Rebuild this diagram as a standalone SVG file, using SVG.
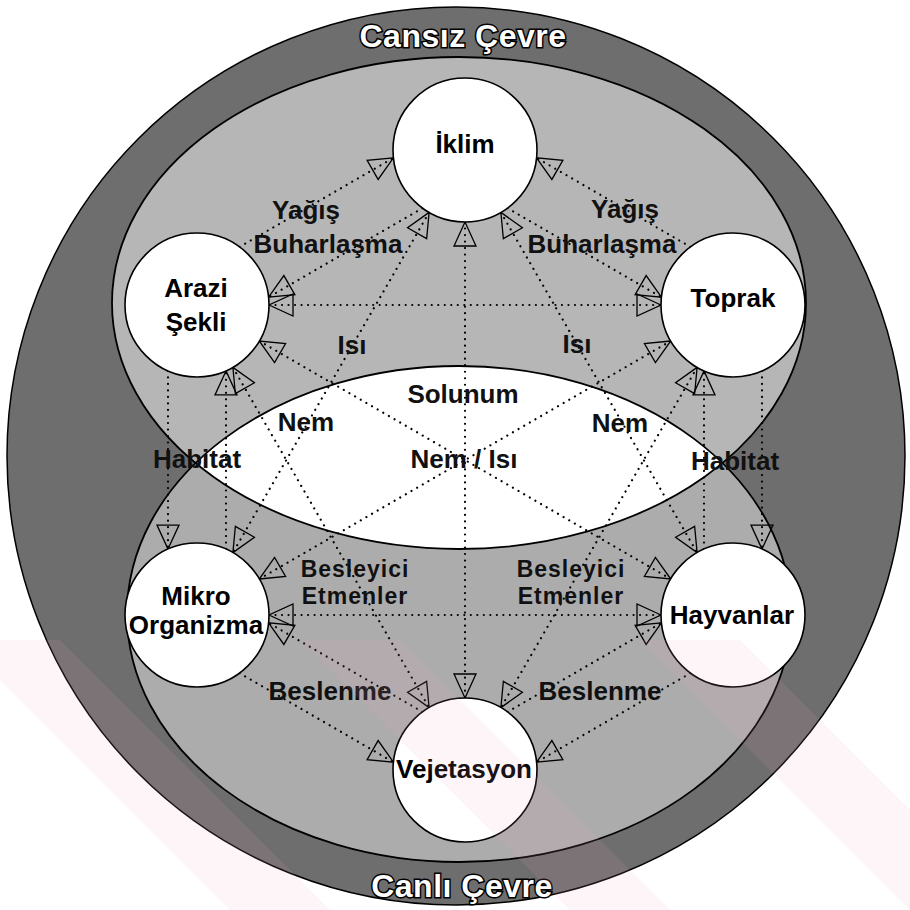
<svg xmlns="http://www.w3.org/2000/svg" width="910" height="910" viewBox="0 0 910 910">
  <defs>
    <style>
      .ring { fill: #6e6e6e; stroke: #000; stroke-width: 1.5; }
      .upper { fill: #b6b6b6; }
      .lower { fill: #acacac; }
      .lens { fill: #ffffff; }
      .outline { fill: none; stroke: #000; stroke-width: 1.8; }
      .node { fill: #ffffff; stroke: #000; stroke-width: 1.6; }
      .ntext { font-family: "Liberation Sans", Arial, sans-serif; font-weight: bold; font-size: 26px; fill: #000; text-anchor: middle; }
      .etext { font-family: "Liberation Sans", Arial, sans-serif; font-weight: bold; font-size: 26px; fill: #111; text-anchor: middle; }
      .stack { font-size: 23px; letter-spacing: 1px; }
      .title { font-family: "Liberation Sans", Arial, sans-serif; font-weight: bold; font-size: 32px; fill: #ffffff; stroke: #000; stroke-width: 3; paint-order: stroke; text-anchor: middle; letter-spacing: 0.5px; }
      .dot { fill: none; stroke: #000; stroke-width: 2.2; stroke-linecap: round; stroke-dasharray: 0.01 6.5; }
      .both { marker-start: url(#tri); marker-end: url(#tri); }
      .one { marker-end: url(#tri); }
      .wm { fill: #f0a8b8; opacity: 0.11; }
    </style>
    <marker id="tri" viewBox="-26 -13 28 26" refX="0" refY="0" markerWidth="28" markerHeight="26" markerUnits="userSpaceOnUse" orient="auto-start-reverse">
      <path d="M0,0 L-24,-11 L-24,11 Z" fill="none" stroke="#000" stroke-width="1.3"/>
    </marker>
    <clipPath id="upClip">
      <ellipse cx="459" cy="303" rx="347" ry="246"/>
    </clipPath>
    <clipPath id="wmClip">
      <rect x="0" y="640" width="910" height="270"/>
    </clipPath>
  </defs>

  <g id="background">
    <circle class="ring" cx="456" cy="456" r="449"/>
    <ellipse class="upper" cx="459" cy="303" rx="347" ry="246"/>
    <ellipse class="lower" cx="459" cy="614" rx="332" ry="248"/>
    <ellipse class="lens" cx="459" cy="614" rx="332" ry="248" clip-path="url(#upClip)"/>
    <ellipse class="outline" cx="459" cy="303" rx="347" ry="246"/>
    <ellipse class="outline" cx="459" cy="614" rx="332" ry="248"/>
    <text class="title" x="463" y="47">Cansız Çevre</text>
    <text class="title" x="462" y="897">Canlı Çevre</text>
  </g>

  <g id="connectors">
    <!-- single lines, arrowheads at both ends -->
    <line class="dot both" x1="465" y1="222" x2="465" y2="698"/>
    <line class="dot both" x1="269" y1="305" x2="661" y2="305"/>
    <line class="dot both" x1="269" y1="615" x2="661" y2="615"/>
    <line class="dot both" x1="259.3" y1="341" x2="670.7" y2="579"/>
    <line class="dot both" x1="670.7" y1="341" x2="259.3" y2="579"/>
    <line class="dot both" x1="429.1" y1="212.4" x2="232.9" y2="552.6"/>
    <line class="dot both" x1="500.9" y1="212.4" x2="697.1" y2="552.6"/>
    <line class="dot both" x1="232.9" y1="367.4" x2="429.1" y2="707.6"/>
    <line class="dot both" x1="697.1" y1="367.4" x2="500.9" y2="707.6"/>
    <!-- paired one-way lines between neighbours -->
    <line class="dot one" x1="239.5" y1="246.9" x2="393.4" y2="157.9"/>
    <line class="dot one" x1="422.5" y1="208.1" x2="268.6" y2="297.1"/>
    <line class="dot one" x1="690.5" y1="246.9" x2="536.6" y2="157.9"/>
    <line class="dot one" x1="507.5" y1="208.1" x2="661.4" y2="297.1"/>
    <line class="dot one" x1="168" y1="370.9" x2="168" y2="549.1"/>
    <line class="dot one" x1="226" y1="549.1" x2="226" y2="370.9"/>
    <line class="dot one" x1="762" y1="370.9" x2="762" y2="549.1"/>
    <line class="dot one" x1="704" y1="549.1" x2="704" y2="370.9"/>
    <line class="dot one" x1="239.5" y1="673.1" x2="393.4" y2="762.1"/>
    <line class="dot one" x1="422.5" y1="711.9" x2="268.6" y2="622.9"/>
    <line class="dot one" x1="690.5" y1="673.1" x2="536.6" y2="762.1"/>
    <line class="dot one" x1="507.5" y1="711.9" x2="661.4" y2="622.9"/>
  </g>

  <g id="iklim">
    <circle class="node" cx="465" cy="150" r="72"/>
    <text class="ntext" x="465" y="153">İklim</text>
  </g>
  <g id="arazi-sekli">
    <circle class="node" cx="197" cy="305" r="72"/>
    <text class="ntext" x="196" y="297">Arazi</text>
    <text class="ntext" x="196" y="331">Şekli</text>
  </g>
  <g id="toprak">
    <circle class="node" cx="733" cy="305" r="72"/>
    <text class="ntext" x="733" y="307">Toprak</text>
  </g>
  <g id="mikro-organizma">
    <circle class="node" cx="197" cy="615" r="72"/>
    <text class="ntext" x="196" y="605">Mikro</text>
    <text class="ntext" x="196" y="634">Organizma</text>
  </g>
  <g id="hayvanlar">
    <circle class="node" cx="733" cy="615" r="72"/>
    <text class="ntext" x="732" y="624">Hayvanlar</text>
  </g>
  <g id="vejetasyon">
    <circle class="node" cx="465" cy="770" r="72"/>
    <text class="ntext" x="464" y="778">Vejetasyon</text>
  </g>

  <g id="labels">
    <text class="etext" x="306" y="219">Yağış</text>
    <text class="etext" x="328" y="253">Buharlaşma</text>
    <text class="etext" x="625" y="218">Yağış</text>
    <text class="etext" x="602" y="253">Buharlaşma</text>
    <text class="etext" x="352" y="354">Isı</text>
    <text class="etext" x="577" y="353">Isı</text>
    <text class="etext" x="463" y="403">Solunum</text>
    <text class="etext" x="306" y="431">Nem</text>
    <text class="etext" x="620" y="432">Nem</text>
    <text class="etext" x="464" y="468">Nem / Isı</text>
    <text class="etext" x="197" y="468">Habitat</text>
    <text class="etext" x="735" y="470">Habitat</text>
    <text class="etext stack" x="355" y="577">Besleyici</text>
    <text class="etext stack" x="355" y="604">Etmenler</text>
    <text class="etext stack" x="571" y="577">Besleyici</text>
    <text class="etext stack" x="571" y="604">Etmenler</text>
    <text class="etext" x="330" y="700">Beslenme</text>
    <text class="etext" x="600" y="700">Beslenme</text>
  </g>

  <g id="watermark" clip-path="url(#wmClip)">
    <polygon class="wm" points="-40,640 60,640 330,910 230,910"/>
    <polygon class="wm" points="300,640 400,640 670,910 570,910"/>
    <polygon class="wm" points="640,640 740,640 1010,910 910,910"/>
  </g>
</svg>
